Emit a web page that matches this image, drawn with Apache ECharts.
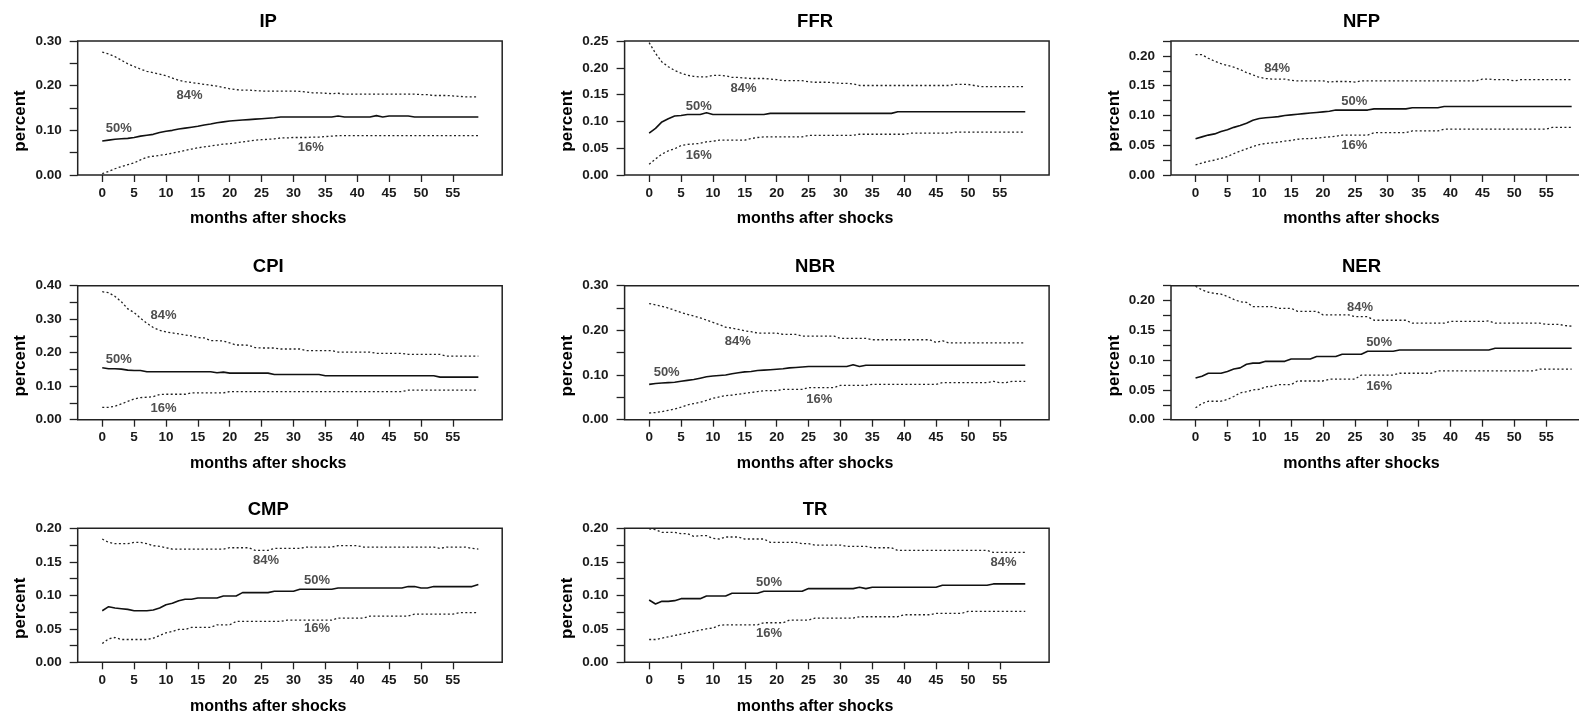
<!DOCTYPE html>
<html>
<head>
<meta charset="utf-8">
<title>Impulse responses</title>
<script src="https://cdn.jsdelivr.net/npm/echarts@6/dist/echarts.min.js"></script>
<style>
  html, body { margin: 0; padding: 0; background: #fff; }
  #chart { width: 1579px; height: 715px; }
</style>
</head>
<body>
<div id="chart"></div>
<script>
// Months after the shock (0..59)
const months = [
  0, 1, 2, 3, 4, 5, 6, 7, 8, 9, 10, 11, 12, 13, 14, 15, 16, 17, 18, 19,
  20, 21, 22, 23, 24, 25, 26, 27, 28, 29, 30, 31, 32, 33, 34, 35, 36, 37, 38, 39,
  40, 41, 42, 43, 44, 45, 46, 47, 48, 49, 50, 51, 52, 53, 54, 55, 56, 57, 58, 59
];
const xTicks = [0, 5, 10, 15, 20, 25, 30, 35, 40, 45, 50, 55];

// ---- IP ----
const ip84 = [
  .275,.271,.265,.257,.249,.243,.237,.232,.229,.226,
  .222,.217,.212,.209,.207,.205,.203,.201,.199,.196,
  .193,.191,.190,.190,.189,.188,.188,.188,.188,.188,
  .188,.187,.186,.184,.184,.183,.182,.183,.181,.181,
  .181,.181,.181,.181,.181,.181,.181,.181,.181,.181,
  .180,.180,.178,.178,.178,.177,.176,.175,.175,.175];
const ip50 = [
  .076,.078,.080,.081,.082,.084,.087,.089,.091,.095,
  .098,.100,.103,.105,.107,.109,.112,.114,.117,.119,
  .121,.122,.123,.124,.125,.126,.127,.128,.130,.130,
  .130,.130,.130,.130,.130,.130,.130,.132,.130,.130,
  .130,.130,.130,.133,.130,.132,.132,.132,.132,.130,
  .130,.130,.130,.130,.130,.130,.130,.130,.130,.130];
const ip16 = [
  .003,.008,.014,.019,.023,.027,.034,.040,.042,.044,
  .046,.049,.052,.055,.058,.061,.063,.065,.067,.069,
  .070,.072,.074,.076,.078,.079,.080,.081,.083,.083,
  .084,.084,.084,.085,.085,.086,.087,.088,.088,.088,
  .088,.088,.088,.088,.088,.088,.088,.088,.088,.088,
  .088,.088,.088,.088,.088,.088,.088,.088,.088,.088];
const ipTicks = [0, 0.05, 0.10, 0.15, 0.20, 0.25, 0.30];
const ipLabels = [0, 0.10, 0.20, 0.30];
const ipNotes = [[13.7, 0.179, '84%'], [2.6, 0.105, '50%'], [32.7, 0.061, '16%']];

// ---- FFR ----
const ffr84 = [
  .247,.227,.211,.202,.195,.190,.186,.184,.183,.183,
  .186,.186,.185,.182,.182,.181,.180,.180,.180,.179,
  .178,.176,.176,.176,.176,.174,.173,.173,.173,.172,
  .171,.171,.170,.167,.167,.167,.167,.167,.167,.167,
  .167,.167,.167,.167,.167,.167,.167,.167,.169,.169,
  .169,.167,.165,.165,.165,.165,.165,.165,.165,.165];
const ffr50 = [
  .078,.087,.099,.105,.110,.111,.113,.113,.113,.116,
  .113,.113,.113,.113,.113,.113,.113,.113,.113,.115,
  .115,.115,.115,.115,.115,.115,.115,.115,.115,.115,
  .115,.115,.115,.115,.115,.115,.115,.115,.115,.118,
  .118,.118,.118,.118,.118,.118,.118,.118,.118,.118,
  .118,.118,.118,.118,.118,.118,.118,.118,.118,.118];
const ffr16 = [
  .020,.030,.039,.045,.049,.055,.057,.058,.059,.062,
  .063,.065,.065,.065,.065,.065,.068,.070,.071,.071,
  .071,.071,.071,.071,.071,.074,.074,.074,.074,.074,
  .074,.074,.074,.076,.076,.076,.076,.076,.076,.076,
  .076,.078,.078,.078,.078,.078,.078,.078,.080,.080,
  .080,.080,.080,.080,.080,.080,.080,.080,.080,.080];
const ffrTicks = [0, 0.05, 0.10, 0.15, 0.20, 0.25];
const ffrLabels = [0, 0.05, 0.10, 0.15, 0.20, 0.25];
const ffrNotes = [[14.8, 0.161, '84%'], [7.8, 0.128, '50%'], [7.8, 0.037, '16%']];

// ---- NFP ----
const nfp84 = [
  .202,.202,.196,.191,.187,.184,.181,.177,.172,.168,
  .164,.162,.161,.161,.161,.159,.158,.158,.158,.158,
  .158,.156,.157,.157,.157,.156,.158,.158,.158,.158,
  .158,.158,.158,.158,.158,.158,.158,.158,.158,.158,
  .158,.158,.158,.158,.158,.161,.161,.160,.160,.160,
  .158,.160,.160,.160,.160,.160,.160,.160,.160,.160];
const nfp50 = [
  .061,.064,.067,.069,.073,.076,.080,.083,.087,.092,
  .095,.096,.097,.098,.100,.101,.102,.103,.104,.105,
  .106,.107,.109,.109,.109,.109,.109,.109,.111,.111,
  .111,.111,.111,.111,.113,.113,.113,.113,.113,.115,
  .115,.115,.115,.115,.115,.115,.115,.115,.115,.115,
  .115,.115,.115,.115,.115,.115,.115,.115,.115,.115];
const nfp16 = [
  .017,.020,.023,.025,.028,.031,.036,.040,.044,.048,
  .051,.053,.054,.055,.057,.058,.060,.061,.061,.062,
  .063,.064,.065,.067,.067,.067,.067,.067,.071,.071,
  .071,.071,.071,.071,.074,.074,.074,.074,.074,.077,
  .077,.077,.077,.077,.077,.077,.077,.077,.077,.077,
  .077,.077,.077,.077,.077,.077,.080,.080,.080,.080];
const nfpTicks = [0, 0.025, 0.05, 0.075, 0.10, 0.125, 0.15, 0.175, 0.20, 0.225];
const nfpLabels = [0, 0.05, 0.10, 0.15, 0.20];
const nfpNotes = [[12.8, 0.179, '84%'], [24.9, 0.124, '50%'], [24.9, 0.049, '16%']];

// ---- CPI ----
const cpi84 = [
  .382,.379,.368,.352,.331,.320,.303,.288,.275,.267,
  .262,.259,.256,.253,.250,.245,.244,.236,.236,.235,
  .229,.223,.223,.222,.215,.214,.214,.214,.211,.211,
  .211,.211,.206,.206,.206,.206,.206,.202,.202,.202,
  .202,.202,.202,.198,.198,.198,.198,.198,.195,.195,
  .195,.195,.195,.195,.190,.190,.190,.190,.190,.190];
const cpi50 = [
  .155,.152,.152,.151,.148,.147,.147,.143,.143,.143,
  .143,.143,.143,.143,.143,.143,.143,.143,.140,.142,
  .139,.139,.139,.139,.139,.139,.139,.135,.135,.135,
  .135,.135,.135,.135,.135,.131,.131,.131,.131,.131,
  .131,.131,.131,.131,.131,.131,.131,.131,.131,.131,
  .131,.131,.131,.127,.127,.127,.127,.127,.127,.127];
const cpi16 = [
  .037,.037,.040,.047,.055,.062,.066,.067,.069,.075,
  .076,.076,.076,.076,.080,.080,.080,.080,.080,.080,
  .084,.084,.084,.084,.084,.084,.084,.084,.084,.084,
  .084,.084,.084,.084,.084,.084,.084,.084,.084,.084,
  .084,.084,.084,.084,.084,.084,.084,.084,.088,.088,
  .088,.088,.088,.088,.088,.088,.088,.088,.088,.088];
const cpiTicks = [0, 0.05, 0.10, 0.15, 0.20, 0.25, 0.30, 0.35, 0.40];
const cpiLabels = [0, 0.10, 0.20, 0.30, 0.40];
const cpiNotes = [[9.6, 0.312, '84%'], [2.6, 0.180, '50%'], [9.6, 0.034, '16%']];

// ---- NBR ----
const nbr84 = [
  .260,.257,.254,.250,.245,.240,.236,.232,.228,.223,
  .218,.213,.207,.205,.202,.199,.197,.194,.194,.194,
  .194,.191,.191,.191,.187,.187,.187,.187,.187,.187,
  .182,.182,.182,.182,.182,.179,.179,.179,.179,.179,
  .179,.179,.179,.179,.179,.173,.177,.172,.172,.172,
  .172,.172,.172,.172,.172,.172,.172,.172,.172,.172];
const nbr50 = [
  .079,.081,.082,.083,.084,.086,.088,.090,.093,.096,
  .098,.099,.100,.103,.105,.107,.108,.110,.111,.112,
  .113,.114,.116,.117,.118,.119,.119,.119,.119,.119,
  .119,.119,.123,.119,.122,.122,.122,.122,.122,.122,
  .122,.122,.122,.122,.122,.122,.122,.122,.122,.122,
  .122,.122,.122,.122,.122,.122,.122,.122,.122,.122];
const nbr16 = [
  .015,.016,.018,.021,.024,.028,.033,.036,.039,.043,
  .048,.051,.054,.055,.057,.059,.061,.063,.065,.065,
  .065,.068,.068,.068,.068,.072,.072,.072,.072,.072,
  .077,.077,.077,.077,.077,.079,.079,.079,.079,.079,
  .079,.079,.079,.079,.079,.079,.083,.083,.083,.083,
  .083,.083,.083,.083,.086,.083,.083,.086,.086,.086];
const nbrTicks = [0, 0.05, 0.10, 0.15, 0.20, 0.25, 0.30];
const nbrLabels = [0, 0.10, 0.20, 0.30];
const nbrNotes = [[13.9, 0.176, '84%'], [2.75, 0.105, '50%'], [26.7, 0.0465, '16%']];

// ---- NER ----
const ner84 = [
  .224,.218,.214,.212,.211,.207,.202,.198,.197,.190,
  .190,.190,.190,.187,.187,.187,.182,.182,.182,.182,
  .176,.176,.176,.176,.176,.173,.173,.173,.167,.167,
  .167,.167,.167,.167,.162,.162,.162,.162,.162,.162,
  .165,.165,.165,.165,.165,.165,.166,.162,.162,.162,
  .162,.162,.162,.162,.162,.160,.160,.160,.158,.157];
const ner50 = [
  .070,.073,.078,.078,.078,.081,.085,.087,.093,.095,
  .095,.098,.098,.098,.098,.102,.102,.102,.102,.106,
  .106,.106,.106,.110,.110,.110,.110,.115,.115,.115,
  .115,.115,.117,.117,.117,.117,.117,.117,.117,.117,
  .117,.117,.117,.117,.117,.117,.117,.120,.120,.120,
  .120,.120,.120,.120,.120,.120,.120,.120,.120,.120];
const ner16 = [
  .020,.027,.031,.031,.031,.034,.039,.045,.047,.050,
  .051,.055,.056,.059,.059,.059,.065,.065,.065,.065,
  .065,.068,.068,.068,.068,.068,.075,.075,.075,.075,
  .075,.075,.078,.078,.078,.078,.078,.078,.082,.082,
  .082,.082,.082,.082,.082,.082,.082,.082,.082,.082,
  .082,.082,.082,.082,.085,.085,.085,.085,.085,.085];
const nerTicks = [0, 0.025, 0.05, 0.075, 0.10, 0.125, 0.15, 0.175, 0.20, 0.225];
const nerLabels = [0, 0.05, 0.10, 0.15, 0.20];
const nerNotes = [[25.8, 0.189, '84%'], [28.8, 0.130, '50%'], [28.8, 0.056, '16%']];

// ---- CMP ----
const cmp84 = [
  .184,.179,.177,.177,.177,.179,.179,.177,.174,.173,
  .171,.169,.169,.169,.169,.169,.169,.169,.169,.169,
  .171,.171,.171,.171,.167,.167,.167,.170,.170,.170,
  .170,.170,.172,.172,.172,.172,.172,.174,.174,.174,
  .174,.172,.172,.172,.172,.172,.172,.172,.172,.172,
  .172,.172,.172,.170,.172,.172,.172,.172,.170,.169];
const cmp50 = [
  .077,.083,.081,.080,.079,.077,.077,.077,.078,.081,
  .086,.088,.092,.094,.094,.096,.096,.096,.096,.099,
  .099,.099,.104,.104,.104,.104,.104,.106,.106,.106,
  .106,.109,.109,.109,.109,.109,.109,.111,.111,.111,
  .111,.111,.111,.111,.111,.111,.111,.111,.113,.113,
  .111,.111,.113,.113,.113,.113,.113,.113,.113,.116];
const cmp16 = [
  .028,.035,.037,.034,.034,.034,.034,.034,.036,.040,
  .044,.046,.049,.049,.052,.052,.052,.052,.056,.056,
  .056,.061,.061,.061,.061,.061,.061,.061,.061,.063,
  .063,.063,.063,.063,.063,.063,.063,.066,.066,.066,
  .066,.066,.069,.069,.069,.069,.069,.069,.069,.072,
  .072,.072,.072,.072,.072,.072,.074,.074,.074,.074];
const cmpTicks = [0, 0.025, 0.05, 0.075, 0.10, 0.125, 0.15, 0.175, 0.20];
const cmpLabels = [0, 0.05, 0.10, 0.15, 0.20];
const cmpNotes = [[25.7, 0.152, '84%'], [33.7, 0.122, '50%'], [33.7, 0.050, '16%']];

// ---- TR ----
const tr84 = [
  .199,.198,.194,.194,.194,.192,.192,.188,.189,.189,
  .185,.184,.187,.187,.187,.184,.184,.184,.184,.179,
  .179,.179,.179,.179,.177,.177,.175,.175,.175,.175,
  .175,.173,.173,.173,.173,.171,.171,.171,.171,.167,
  .167,.167,.167,.167,.167,.167,.167,.167,.167,.167,
  .167,.167,.167,.167,.164,.164,.164,.164,.164,.164];
const tr50 = [
  .093,.087,.091,.091,.092,.095,.095,.095,.095,.099,
  .099,.099,.099,.103,.103,.103,.103,.103,.106,.106,
  .106,.106,.106,.106,.106,.110,.110,.110,.110,.110,
  .110,.110,.110,.112,.110,.112,.112,.112,.112,.112,
  .112,.112,.112,.112,.112,.112,.115,.115,.115,.115,
  .115,.115,.115,.115,.117,.117,.117,.117,.117,.117];
const tr16 = [
  .034,.034,.036,.038,.040,.042,.044,.046,.048,.050,
  .051,.055,.056,.056,.056,.056,.056,.056,.059,.059,
  .059,.059,.063,.063,.063,.063,.066,.066,.066,.066,
  .066,.066,.066,.068,.068,.068,.068,.068,.068,.068,
  .071,.071,.071,.071,.071,.073,.073,.073,.073,.073,
  .076,.076,.076,.076,.076,.076,.076,.076,.076,.076];
const trTicks = [0, 0.025, 0.05, 0.075, 0.10, 0.125, 0.15, 0.175, 0.20];
const trLabels = [0, 0.05, 0.10, 0.15, 0.20];
const trNotes = [[55.6, 0.1485, '84%'], [18.8, 0.1185, '50%'], [18.8, 0.0435, '16%']];

const panels = [
  { name: 'IP',  col: 0, row: 0, yMax: 0.30,  ticks: ipTicks,  labels: ipLabels,  hi: ip84,  mid: ip50,  lo: ip16,  notes: ipNotes },
  { name: 'FFR', col: 1, row: 0, yMax: 0.25,  ticks: ffrTicks, labels: ffrLabels, hi: ffr84, mid: ffr50, lo: ffr16, notes: ffrNotes },
  { name: 'NFP', col: 2, row: 0, yMax: 0.225, ticks: nfpTicks, labels: nfpLabels, hi: nfp84, mid: nfp50, lo: nfp16, notes: nfpNotes },
  { name: 'CPI', col: 0, row: 1, yMax: 0.40,  ticks: cpiTicks, labels: cpiLabels, hi: cpi84, mid: cpi50, lo: cpi16, notes: cpiNotes },
  { name: 'NBR', col: 1, row: 1, yMax: 0.30,  ticks: nbrTicks, labels: nbrLabels, hi: nbr84, mid: nbr50, lo: nbr16, notes: nbrNotes },
  { name: 'NER', col: 2, row: 1, yMax: 0.225, ticks: nerTicks, labels: nerLabels, hi: ner84, mid: ner50, lo: ner16, notes: nerNotes },
  { name: 'CMP', col: 0, row: 2, yMax: 0.20,  ticks: cmpTicks, labels: cmpLabels, hi: cmp84, mid: cmp50, lo: cmp16, notes: cmpNotes },
  { name: 'TR',  col: 1, row: 2, yMax: 0.20,  ticks: trTicks,  labels: trLabels,  hi: tr84,  mid: tr50,  lo: tr16,  notes: trNotes }
];

// Panel layout (pixels); the right-hand column runs past the page edge
const colLeft = [77.7, 624.6, 1171];
const rowTop = [41, 285.7, 528.3];
const boxW = 424.5;
const boxH = 134;
const X_MIN = -3.85, X_MAX = 62.74;

const FONT = '"Liberation Sans", Arial, Helvetica, sans-serif';
const INK = '#1a1a1a';

const grids = [], xAxes = [], yAxes = [], series = [], graphics = [];

const pairs = arr => months.map((m, i) => [m, arr[i]]);

panels.forEach((p, i) => {
  const left = colLeft[p.col];
  const top = rowTop[p.row];
  grids.push({
    left: left, top: top, width: boxW, height: boxH,
    show: true, borderColor: '#222', borderWidth: 1.5,
    backgroundColor: 'transparent', containLabel: false,
    outerBoundsMode: 'none'
  });
  xAxes.push({
    type: 'value', gridIndex: i, min: X_MIN, max: X_MAX,
    axisLine: { show: false, onZero: false }, splitLine: { show: false },
    axisTick: { show: true, length: 7, customValues: xTicks, lineStyle: { color: '#222', width: 1.3 } },
    axisLabel: {
      customValues: xTicks, margin: 11,
      fontFamily: FONT, fontWeight: 'bold', fontSize: 13.5, color: INK
    }
  });
  yAxes.push({
    type: 'value', gridIndex: i, min: 0, max: p.yMax,
    axisLine: { show: false, onZero: false }, splitLine: { show: false },
    axisTick: { show: true, length: 8, customValues: p.ticks, lineStyle: { color: '#222', width: 1.3 } },
    axisLabel: {
      customValues: p.labels, margin: 16,
      formatter: v => v.toFixed(2),
      fontFamily: FONT, fontWeight: 'bold', fontSize: 13.5, color: INK
    }
  });

  const band = { color: '#222', width: 1.3, type: [2, 2.4] };
  series.push({
    type: 'line', xAxisIndex: i, yAxisIndex: i, data: pairs(p.hi),
    showSymbol: false, symbol: 'none', lineStyle: band, silent: true
  });
  series.push({
    type: 'line', xAxisIndex: i, yAxisIndex: i, data: pairs(p.mid),
    showSymbol: false, symbol: 'none', lineStyle: { color: '#111', width: 1.6 }, silent: true
  });
  series.push({
    type: 'line', xAxisIndex: i, yAxisIndex: i, data: pairs(p.lo),
    showSymbol: false, symbol: 'none', lineStyle: band, silent: true
  });
  // Percentile annotations placed in data coordinates
  series.push({
    type: 'scatter', xAxisIndex: i, yAxisIndex: i, data: p.notes,
    symbolSize: 1, itemStyle: { color: 'rgba(0,0,0,0)' }, silent: true,
    label: {
      show: true, position: 'inside', formatter: d => d.data[2],
      fontFamily: FONT, fontWeight: 'bold', fontSize: 13, color: '#222'
    }
  });

  const cx = left + 190.5;
  graphics.push({
    type: 'text', x: cx, y: top - 18.7,
    style: { text: p.name, align: 'center', verticalAlign: 'middle',
             font: 'bold 18.5px ' + FONT, fill: '#000' }
  });
  graphics.push({
    type: 'text', x: cx, y: top + boxH + 44,
    style: { text: 'months after shocks', align: 'center', verticalAlign: 'middle',
             font: 'bold 16px ' + FONT, fill: '#000' }
  });
  graphics.push({
    type: 'text', x: left - 57, y: top + boxH / 2 + 13, rotation: Math.PI / 2,
    style: { text: 'percent', align: 'center', verticalAlign: 'middle',
             font: 'bold 17px ' + FONT, fill: '#000' }
  });
});

const chart = echarts.init(document.getElementById('chart'), null, { renderer: 'canvas' });
chart.setOption({
  animation: false,
  backgroundColor: '#fff',
  grid: grids,
  xAxis: xAxes,
  yAxis: yAxes,
  series: series,
  graphic: graphics
});
</script>
</body>
</html>
